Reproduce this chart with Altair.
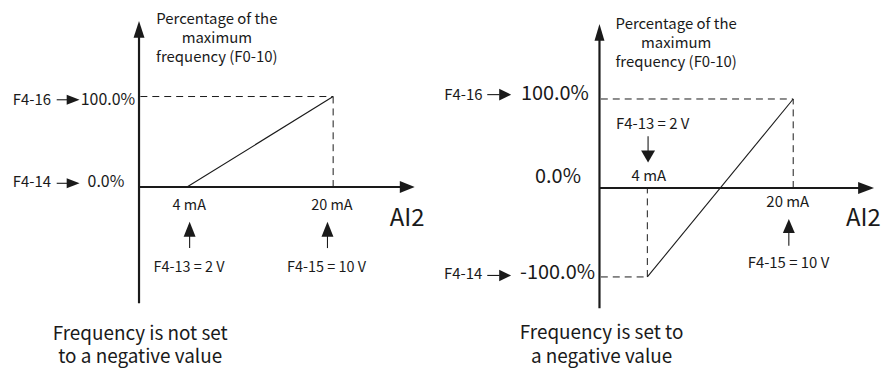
import altair as alt
import pandas as pd

FONT = "Noto Sans CJK SC"
INK = "#1a1a1a"

# ---------------- values ----------------
ai2_ma = [4, 20]                                  # AI2 input points (mA)
ai2_ma_labels = ["4 mA", "20 mA"]
ai2_volt_labels = ["F4-13 = 2 V", "F4-15 = 10 V"]
pct_left = [0.0, 100.0]                           # output % at 4 mA / 20 mA
pct_right = [-100.0, 100.0]
pct_labels_left = ["0.0%", "100.0%"]
pct_labels_right = ["-100.0%", "100.0%"]
param_codes = ["F4-14", "F4-16"]                  # low / high setting codes
y_title = ["Percentage of the", "maximum", "frequency (F0-10)"]
x_title = "AI2"
captions_left = ["Frequency is not set", "to a negative value"]
captions_right = ["Frequency is set to", "a negative value"]

AX = -1.25  # where the drawn y-axis crosses the x scale (mA)


def head(direction, length, half):
    w = 2.0 * half / length
    if direction == "up":
        p = f"M0,0L{w:.3f},2L{-w:.3f},2Z"
    elif direction == "down":
        p = f"M0,0L{w:.3f},-2L{-w:.3f},-2Z"
    else:
        p = f"M0,0L-2,{w:.3f}L-2,{-w:.3f}Z"
    return p, length * length


def panel(cfg):
    xs = alt.Scale(domain=cfg["xdom"], nice=False, zero=False)
    ys = alt.Scale(domain=cfg["ydom"], nice=False, zero=False)

    def X(f="x"):
        return alt.X(f"{f}:Q", scale=xs, axis=None)

    def Y(f="y"):
        return alt.Y(f"{f}:Q", scale=ys, axis=None)

    axes = pd.DataFrame(cfg["axes"], columns=["x", "y", "x2", "y2"])
    thin = pd.DataFrame(cfg["shafts"] + [[ai2_ma[0], cfg["pct"][0], ai2_ma[1], cfg["pct"][1]]],
                        columns=["x", "y", "x2", "y2"])
    dashed = pd.DataFrame(cfg["dashed"], columns=["x", "y", "x2", "y2"])
    rows = []
    for x, y, d, L, hw in cfg["heads"]:
        p, s = head(d, L, hw)
        rows.append({"x": x, "y": y, "shape": p, "size": s})
    heads = pd.DataFrame(rows)
    texts = pd.DataFrame(cfg["texts"], columns=["text", "x", "y", "fs"])
    cap = pd.DataFrame([{"x": cfg["caption_xy"][0], "y": cfg["caption_xy"][1]}])

    l_axes = alt.Chart(axes).mark_rule(color=INK, strokeWidth=2.2).encode(
        x=X(), y=Y(), x2="x2:Q", y2="y2:Q")
    l_thin = alt.Chart(thin).mark_rule(color=INK, strokeWidth=1.1).encode(
        x=X(), y=Y(), x2="x2:Q", y2="y2:Q")
    l_dash = alt.Chart(dashed).mark_rule(color=INK, strokeWidth=1, strokeDash=[7, 5]).encode(
        x=X(), y=Y(), x2="x2:Q", y2="y2:Q")
    l_heads = alt.Chart(heads).mark_point(filled=True, color=INK, opacity=1, strokeWidth=0).encode(
        x=X(), y=Y(),
        shape=alt.Shape("shape:N", scale=None, legend=None),
        size=alt.Size("size:Q", scale=None, legend=None))
    l_text = alt.Chart(texts).mark_text(font=FONT, color=INK, align="center",
                                        baseline="alphabetic").encode(
        x=X(), y=Y(), text="text:N",
        size=alt.Size("fs:Q", scale=None, legend=None))
    l_cap = alt.Chart(cap).mark_text(font=FONT, color=INK, align="center", baseline="alphabetic",
                                     fontSize=19, lineHeight=23.5).encode(
        x=X(), y=Y(), text=alt.value(cfg["caption"]))
    return alt.layer(l_dash, l_thin, l_axes, l_heads, l_text, l_cap).properties(
        width=cfg["width"], height=356)


left_cfg = {
    "width": 427,
    "xdom": [-15.592, 30.884],
    "ydom": [-194.51, 196.70],
    "pct": pct_left,
    "axes": [[AX, -128.6, AX, 172.0], [AX, 0.0, 27.8, 0.0]],
    "shafts": [[-10.26, 96.4, -8.6, 96.4], [-10.26, 4.1, -8.6, 4.1],
               [4.29, -67.5, 4.29, -52.0], [19.38, -67.5, 19.38, -52.0]],
    "dashed": [[AX + 0.15, 100.0, 20.0, 100.0], [20.0, 0.0, 20.0, 100.0]],
    "heads": [(AX, 183.5, "up", 17, 5.5), (28.93, 0.0, "right", 15, 6),
              (-7.755, 96.4, "right", 13, 5), (-7.755, 4.1, "right", 13, 5),
              (4.29, -38.5, "up", 15, 6), (19.38, -38.5, "up", 15, 6)],
    "texts": [
        [y_title[0], 7.27, 179.9, 15], [y_title[1], 7.27, 158.8, 15], [y_title[2], 7.27, 137.9, 15],
        [param_codes[1], -12.98, 90.7, 15], [pct_labels_left[1], -4.65, 90.7, 16],
        [param_codes[0], -12.98, -0.55, 15], [pct_labels_left[0], -4.87, -0.55, 16],
        [ai2_ma_labels[0], 4.25, -25.8, 14.5], [ai2_ma_labels[1], 19.86, -25.8, 14.5],
        [ai2_volt_labels[0], 4.22, -94.2, 14.5], [ai2_volt_labels[1], 19.27, -94.2, 14.5],
        [x_title, 28.11, -42.9, 24],
    ],
    "caption": captions_left,
    "caption_xy": (-1.12, -168.6),
}

right_cfg = {
    "width": 446,
    "xdom": [-19.558, 29.084],
    "ydom": [-196.7, 201.1],
    "pct": pct_right,
    "axes": [[AX, -135.2, AX, 174.0], [AX, 0.0, 27.5, 0.0]],
    "shafts": [[-13.56, 104.9, -12.2, 104.9], [-13.56, -98.3, -12.2, -98.3],
               [4.08, 58.1, 4.08, 40.0], [19.52, -64.8, 19.52, -48.0]],
    "dashed": [[AX + 0.15, 100.0, 20.0, 100.0], [20.0, 0.0, 20.0, 100.0],
               [AX + 0.15, -100.0, 4.0, -100.0], [4.0, -100.0, 4.0, 0.0]],
    "heads": [(AX, 184.4, "up", 17, 5), (28.866, 0.0, "right", 16, 6),
              (-10.94, 104.9, "right", 12, 5.8), (-10.94, -98.3, "right", 12, 5.8),
              (4.08, 28.7, "down", 12, 7), (19.52, -35.0, "up", 14, 6)],
    "texts": [
        [y_title[0], 7.16, 178.8, 15], [y_title[1], 7.16, 157.5, 15], [y_title[2], 7.16, 136.3, 15],
        [param_codes[1], -16.18, 98.3, 15], [pct_labels_right[1], -6.14, 98.3, 20],
        ["0.0%", -5.80, 5.25, 20],
        [param_codes[0], -16.2, -102.8, 15], [pct_labels_right[0], -5.85, -102.8, 20],
        [ai2_volt_labels[0], 4.58, 66.7, 15], [ai2_ma_labels[0], 4.16, 8.2, 15],
        [ai2_ma_labels[1], 19.40, -21.6, 15], [ai2_volt_labels[1], 19.48, -90.5, 15],
        [x_title, 27.70, -42.5, 24],
    ],
    "caption": captions_right,
    "caption_xy": (-1.02, -170.0),
}

chart = alt.hconcat(panel(left_cfg), panel(right_cfg), spacing=0, bounds="flush").properties(
    padding=0
).configure_view(stroke=None)

chart.save("out.html", embed_options={"renderer": "svg", "actions": False})
